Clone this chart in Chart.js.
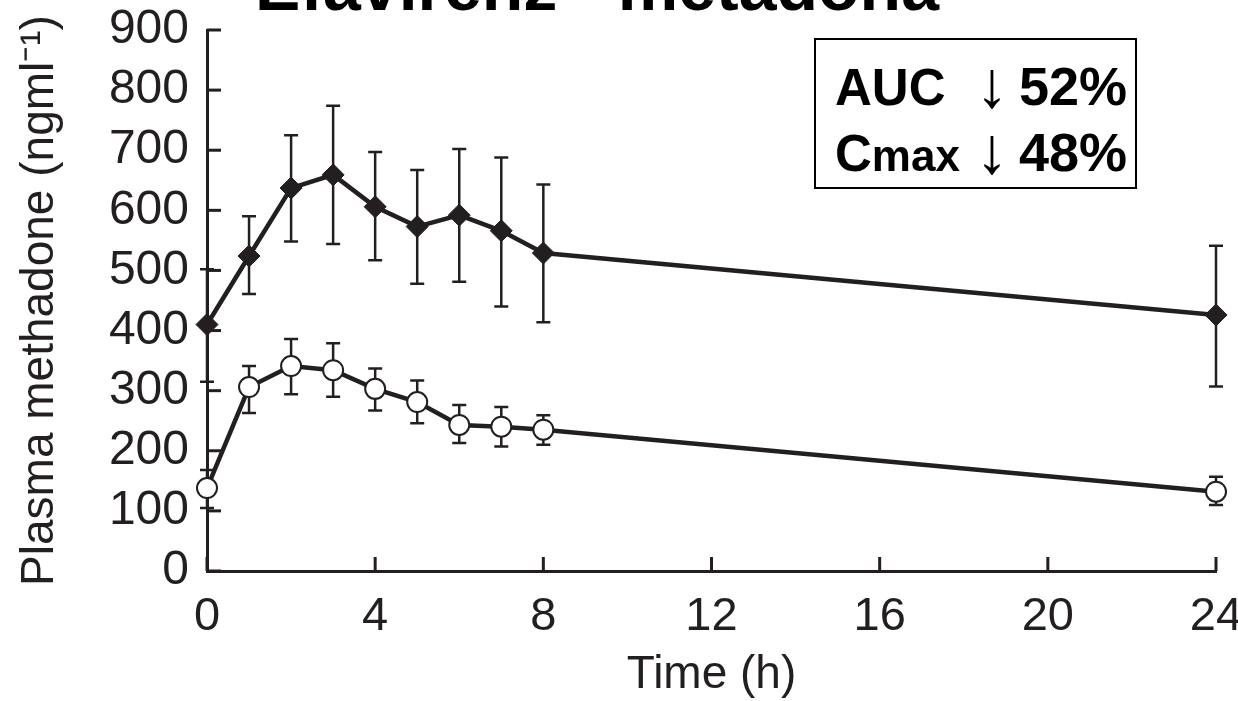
<!DOCTYPE html>
<html>
<head>
<meta charset="utf-8">
<script src="https://cdn.jsdelivr.net/npm/chart.js@4.4.0/dist/chart.umd.min.js"></script>
<style>
  html, body { margin: 0; padding: 0; background: #ffffff; }
  #wrap { width: 1238px; height: 701px; position: relative; }
</style>
</head>
<body>
<div id="wrap"><canvas id="c"></canvas></div>
<script>
// ---- data ----
const times = [0, 1, 2, 3, 4, 5, 6, 7, 8, 24];
const methadoneAlone = [410, 524, 637, 659, 606, 573, 592, 566, 529, 426];
const aloneUpper     = [502, 590, 725, 774, 697, 667, 702, 688, 643, 541];
const aloneLower     = [315, 461, 548, 544, 517, 478, 481, 440, 414, 307];
const withEfavirenz  = [138, 306, 341, 334, 303, 281, 243, 240, 235, 132];
const efvUpper       = [168, 341, 386, 379, 337, 317, 276, 273, 259, 157];
const efvLower       = [105, 263, 294, 290, 267, 246, 213, 207, 210, 110];
const xTickValues = [0, 4, 8, 12, 16, 20, 24];
const yTickValues = [0, 100, 200, 300, 400, 500, 600, 700, 800, 900];
const chartTitle = 'Efavirenz - metadona';
const xTitle = 'Time (h)';
const yTitle = 'Plasma methadone (ngml\u207B\u00B9)';
const boxLines = [
  { label: 'AUC', sub: '', change: '52%' },
  { label: 'C', sub: 'max', change: '48%' }
];

const INK = '#231f20';
const FONT = "'Liberation Sans', Arial, Helvetica, sans-serif";
Chart.defaults.font.family = FONT;

function pts(ys) { return times.map((t, i) => ({ x: t, y: ys[i] })); }

const errorBars = {
  id: 'errorBars',
  beforeDatasetsDraw(chart) {
    const { ctx, scales: { x, y } } = chart;
    const sets = [[aloneUpper, aloneLower], [efvUpper, efvLower]];
    ctx.save();
    ctx.strokeStyle = INK;
    ctx.lineWidth = 2.5;
    sets.forEach(([up, lo]) => {
      times.forEach((t, i) => {
        const px = x.getPixelForValue(t);
        const pu = y.getPixelForValue(up[i]);
        const pl = y.getPixelForValue(lo[i]);
        ctx.beginPath();
        ctx.moveTo(px, pu); ctx.lineTo(px, pl);
        ctx.moveTo(px - 7, pu); ctx.lineTo(px + 7, pu);
        ctx.moveTo(px - 7, pl); ctx.lineTo(px + 7, pl);
        ctx.stroke();
      });
    });
    ctx.restore();
  }
};

const decor = {
  id: 'decor',
  afterDraw(chart) {
    const { ctx, scales: { x, y } } = chart;
    ctx.save();
    // inward ticks
    ctx.strokeStyle = INK;
    ctx.lineWidth = 3;
    const x0 = x.getPixelForValue(0);
    const y0 = y.getPixelForValue(0);
    y.ticks.forEach(tk => {
      const py = y.getPixelForValue(tk.value);
      ctx.beginPath(); ctx.moveTo(x0, py); ctx.lineTo(x0 + 14, py); ctx.stroke();
    });
    x.ticks.forEach(tk => {
      const px = x.getPixelForValue(tk.value);
      ctx.beginPath(); ctx.moveTo(px, y0); ctx.lineTo(px, y0 - 14); ctx.stroke();
    });
    // title (cut by the top edge)
    ctx.fillStyle = '#000';
    ctx.font = 'bold 68px ' + FONT;
    ctx.textAlign = 'center';
    ctx.textBaseline = 'alphabetic';
    ctx.fillText(chartTitle, 597, 10);
    // annotation box
    ctx.lineWidth = 2;
    ctx.strokeStyle = '#000';
    ctx.strokeRect(815, 39, 321, 149);
    ctx.textAlign = 'left';
    const bases = [105, 171];
    boxLines.forEach((ln, i) => {
      const b = bases[i];
      ctx.font = 'bold 51px ' + FONT;
      ctx.fillText(ln.label, 835, b);
      let w = ctx.measureText(ln.label).width;
      if (ln.sub) {
        ctx.font = 'bold 44px ' + FONT;
        ctx.fillText(ln.sub, 835 + w, b);
      }
      ctx.font = '66px ' + FONT;
      ctx.textAlign = 'center';
      ctx.fillText('\u2193', 992, b + 2);
      ctx.textAlign = 'left';
      ctx.font = 'bold 54px ' + FONT;
      ctx.fillText(ln.change, 1019, b);
    });
    ctx.restore();
  }
};

new Chart(document.getElementById('c'), {
  type: 'line',
  data: {
    datasets: [
      {
        label: 'Methadone alone',
        data: pts(methadoneAlone),
        borderColor: INK,
        borderWidth: 4.5,
        pointStyle: 'rectRot',
        pointRadius: 11,
        pointBackgroundColor: INK,
        pointBorderColor: INK,
        pointBorderWidth: 1,
        tension: 0,
        clip: false
      },
      {
        label: 'Methadone + efavirenz',
        data: pts(withEfavirenz),
        borderColor: INK,
        borderWidth: 4.5,
        pointStyle: 'circle',
        pointRadius: 10,
        pointBackgroundColor: '#ffffff',
        pointBorderColor: INK,
        pointBorderWidth: 2,
        tension: 0,
        clip: false
      }
    ]
  },
  options: {
    responsive: true,
    maintainAspectRatio: false,
    animation: false,
    layout: { padding: { top: 30, right: 22, left: 0, bottom: 0 }, autoPadding: false },
    plugins: { legend: { display: false }, tooltip: { enabled: false }, title: { display: false } },
    scales: {
      x: {
        type: 'linear',
        min: 0, max: 24,
        afterBuildTicks: s => { s.ticks = xTickValues.map(v => ({ value: v })); },
        afterFit: s => { s.height = 130; s.paddingLeft = 0; s.paddingRight = 0; },
        grid: { display: false, drawTicks: false },
        border: { display: true, color: INK, width: 3 },
        ticks: { color: INK, font: { size: 47 }, padding: 18, maxRotation: 0, autoSkip: false },
        title: { display: true, text: xTitle, color: INK, font: { size: 46, lineHeight: 1.1 }, padding: { top: 0, bottom: 0 } }
      },
      y: {
        min: 0, max: 900,
        afterBuildTicks: s => { s.ticks = yTickValues.map(v => ({ value: v })); },
        afterFit: s => { s.width = 207; s.paddingTop = 0; s.paddingBottom = 0; },
        grid: { display: false, drawTicks: false },
        border: { display: true, color: INK, width: 3 },
        ticks: { color: INK, font: { size: 48 }, padding: 18, autoSkip: false },
        title: { display: true, text: yTitle, color: INK, font: { size: 46, lineHeight: 1.1 }, padding: { top: 15, bottom: 0 } }
      }
    }
  },
  plugins: [errorBars, decor]
});
</script>
</body>
</html>
